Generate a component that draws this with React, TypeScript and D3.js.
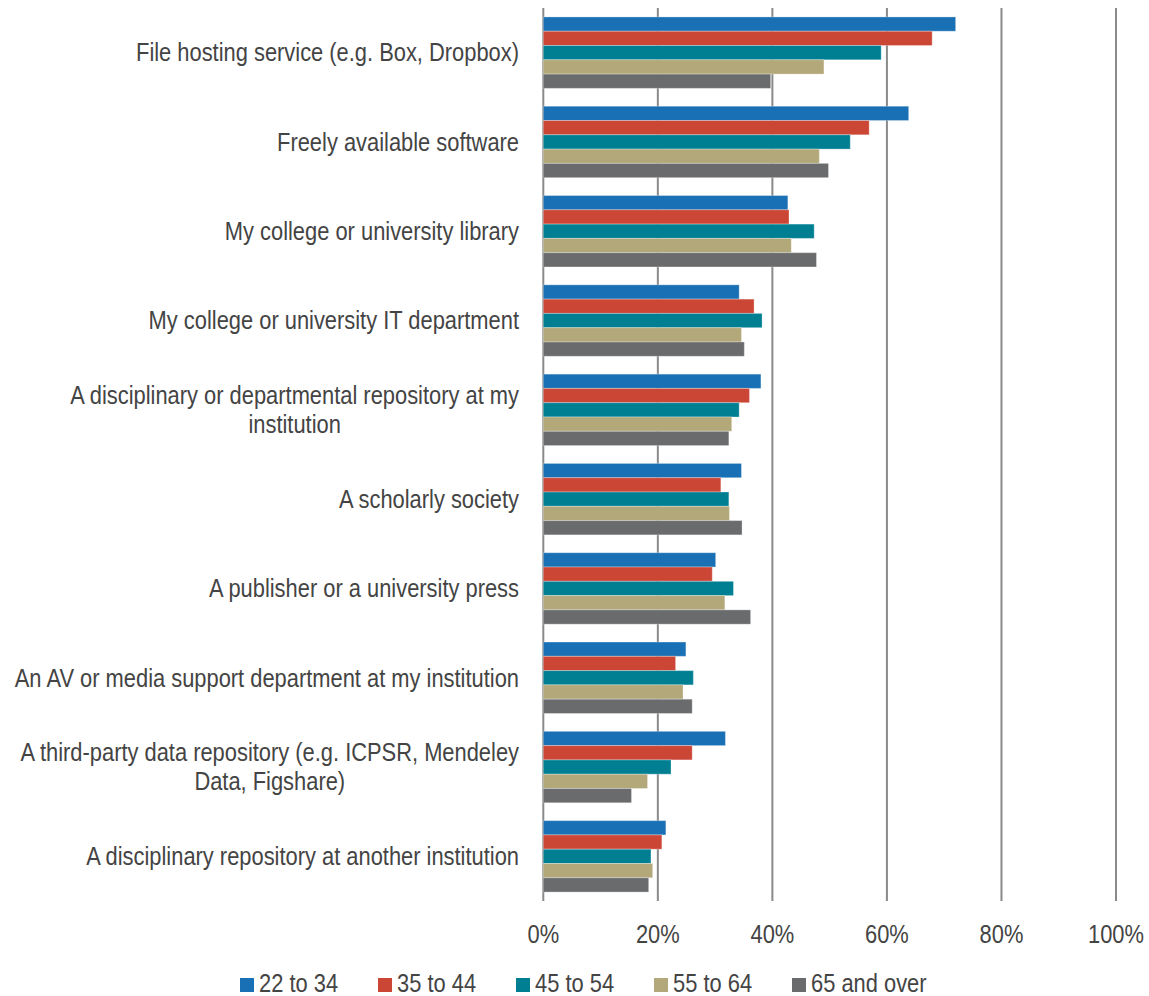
import * as d3 from 'd3';
import {useEffect, useRef} from 'react';

// categories, top to bottom (multi-line labels split with '|')
const categories = [
    'File hosting service (e.g. Box, Dropbox)',
    'Freely available software',
    'My college or university library',
    'My college or university IT department',
    'A disciplinary or departmental repository at my|institution',
    'A scholarly society',
    'A publisher or a university press',
    'An AV or media support department at my institution',
    'A third-party data repository (e.g. ICPSR, Mendeley|Data, Figshare)',
    'A disciplinary repository at another institution',
];

const seriesNames = ['22 to 34', '35 to 44', '45 to 54', '55 to 64', '65 and over'];
const seriesColors = ['#1a70b4', '#cc4636', '#007f93', '#b3a879', '#6a6b6d'];

const age22to34 = [72.0, 63.8, 42.7, 34.2, 38.0, 34.6, 30.1, 24.9, 31.8, 21.4];
const age35to44 = [67.9, 56.9, 42.9, 36.8, 36.0, 31.0, 29.5, 23.1, 26.0, 20.7];
const age45to54 = [59.0, 53.6, 47.3, 38.2, 34.2, 32.4, 33.2, 26.2, 22.3, 18.8];
const age55to64 = [49.0, 48.2, 43.3, 34.6, 32.9, 32.5, 31.7, 24.4, 18.2, 19.1];
const age65plus = [39.7, 49.8, 47.7, 35.1, 32.4, 34.7, 36.2, 26.0, 15.4, 18.4];

const xTicks = [0, 20, 40, 60, 80, 100];

const FONT = '"Liberation Sans", Arial, sans-serif';
const SQUEEZE = 0.875; // no narrow font installed, squeeze glyphs instead

// shrink text horizontally around its anchor
function narrow(sel: d3.Selection<SVGTextElement, any, any, any>) {
    sel.each(function () {
        const w = this.getComputedTextLength();
        d3.select(this).attr('textLength', w * SQUEEZE).attr('lengthAdjust', 'spacingAndGlyphs');
    });
}

export default function App({width = 1149, height = 996}) {
    const ref = useRef(null);

    useEffect(() => {
        const svg = d3.select(ref.current).attr('width', width).attr('height', height);
        svg.selectAll('*').remove();

        const series = [age22to34, age35to44, age45to54, age55to64, age65plus];
        const rows = categories.map((c, i) => ({cat: c, values: series.map((s) => s[i])}));

        const x = d3.scaleLinear().domain([0, 100]).range([543.3, 1116]);
        const y = d3
            .scaleBand<string>()
            .domain(categories)
            .range([8, 901])
            .paddingInner(0.2)
            .paddingOuter(0.1);
        const ySub = d3
            .scaleBand<number>()
            .domain(d3.range(seriesNames.length))
            .range([0, y.bandwidth()]);

        // gridlines
        svg.append('g')
            .selectAll('line')
            .data(xTicks)
            .join('line')
            .attr('x1', (d) => x(d))
            .attr('x2', (d) => x(d))
            .attr('y1', 8)
            .attr('y2', 901)
            .attr('stroke', '#8a8a8a')
            .attr('stroke-width', 2);

        // bars
        const groups = svg
            .append('g')
            .selectAll('g')
            .data(rows)
            .join('g')
            .attr('transform', (d) => `translate(0, ${y(d.cat)})`);

        groups
            .selectAll('rect')
            .data((d) => d.values)
            .join('rect')
            .attr('x', x(0))
            .attr('y', (_, i) => ySub(i))
            .attr('width', (d) => x(d) - x(0))
            .attr('height', ySub.bandwidth())
            .attr('fill', (_, i) => seriesColors[i])
            .attr('stroke', '#ffffff')
            .attr('stroke-opacity', 0.3)
            .attr('stroke-width', 1);

        // category labels, block right-aligned, lines centered
        const labels = svg.append('g').attr('font-family', FONT).attr('font-size', 25).attr('fill', '#444');
        rows.forEach((r) => {
            const lines = r.cat.split('|');
            const cy = (y(r.cat) ?? 0) + y.bandwidth() / 2;
            const lh = 29;
            const texts = lines.map((l, k) =>
                labels
                    .append('text')
                    .text(l)
                    .attr('y', cy + (k - (lines.length - 1) / 2) * lh)
                    .attr('dy', '0.35em')
                    .attr('text-anchor', 'middle')
            );
            const maxW = Math.max(...texts.map((t) => (t.node() as SVGTextElement).getComputedTextLength())) * SQUEEZE;
            texts.forEach((t) => {
                t.attr('x', 519 - maxW / 2);
                narrow(t as any);
            });
        });

        // x axis tick labels
        svg.append('g')
            .selectAll('text')
            .data(xTicks)
            .join('text')
            .attr('x', (d) => x(d))
            .attr('y', 934)
            .attr('dy', '0.35em')
            .attr('text-anchor', 'middle')
            .attr('font-family', FONT)
            .attr('font-size', 25)
            .attr('fill', '#444')
            .text((d) => `${d}%`)
            .call(narrow);

        // legend
        const legend = svg
            .append('g')
            .selectAll('g')
            .data(seriesNames)
            .join('g')
            .attr('transform', (_, i) => `translate(${240 + i * 138}, 984)`);
        legend
            .append('rect')
            .attr('x', 0)
            .attr('y', -6)
            .attr('width', 14)
            .attr('height', 14)
            .attr('fill', (_, i) => seriesColors[i]);
        legend
            .append('text')
            .attr('x', 19)
            .attr('dy', '0.33em')
            .attr('font-family', FONT)
            .attr('font-size', 25)
            .attr('fill', '#444')
            .text((d) => d)
            .call(narrow);
    }, [width, height]);

    return <svg ref={ref} style={{position: 'absolute', left: 0, top: 0}}></svg>;
}
